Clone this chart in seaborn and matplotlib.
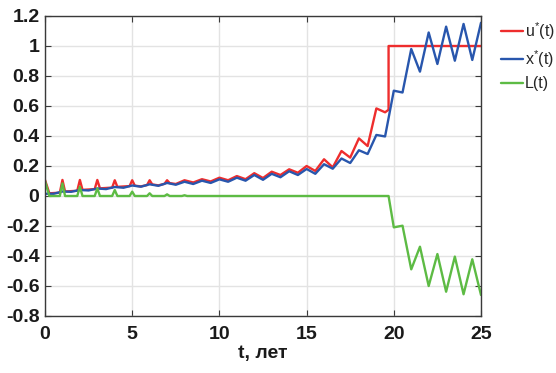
import matplotlib
matplotlib.use('Agg')
import matplotlib.pyplot as plt
from matplotlib.ticker import FuncFormatter, MultipleLocator
import pandas as pd
import seaborn as sns

# ---- data ----
t_u = [0, 0.25, 0.85, 1.0, 1.15, 1.85, 2.0, 2.15, 2.85, 3.0, 3.15, 3.85, 4.0, 4.15,
       4.85, 5.0, 5.15, 5.5, 5.85, 6.0, 6.15, 6.5, 6.85, 7.0, 7.15, 7.5,
       8.0, 8.5, 9.0, 9.5, 10.0, 10.5, 11.0, 11.5, 12.0, 12.5, 13.0, 13.5, 14.0, 14.5,
       15.0, 15.5, 16.0, 16.5, 17.0, 17.5, 18.0, 18.5, 19.0, 19.5, 19.7, 19.7, 25.0]
u_vals = [0.107, 0.018, 0.022, 0.107, 0.03, 0.035, 0.107, 0.041, 0.046, 0.107, 0.051, 0.056, 0.105, 0.061,
          0.066, 0.105, 0.069, 0.064, 0.073, 0.105, 0.077, 0.071, 0.081, 0.105, 0.086, 0.08,
          0.105, 0.09, 0.112, 0.097, 0.122, 0.105, 0.133, 0.112, 0.152, 0.12, 0.162, 0.14, 0.178, 0.155,
          0.2, 0.167, 0.245, 0.191, 0.3, 0.256, 0.384, 0.333, 0.584, 0.558, 0.575, 1.0, 1.0]

t_x = [0, 0.5, 1, 1.5, 2, 2.5, 3, 3.5, 4, 4.5, 5, 5.5, 6, 6.5, 7, 7.5, 8, 8.5, 9, 9.5,
       10, 10.5, 11, 11.5, 12, 12.5, 13, 13.5, 14, 14.5, 15, 15.5, 16, 16.5, 17, 17.5,
       18, 18.5, 19, 19.5, 20, 20.5, 21, 21.5, 22, 22.5, 23, 23.5, 24, 24.5, 25]
x_vals = [0.015, 0.015, 0.03, 0.028, 0.04, 0.037, 0.05, 0.046, 0.06, 0.055, 0.07, 0.062, 0.078, 0.068,
          0.087, 0.075, 0.095, 0.08, 0.102, 0.087, 0.111, 0.095, 0.122, 0.102, 0.14, 0.108, 0.148,
          0.125, 0.165, 0.14, 0.18, 0.148, 0.212, 0.182, 0.25, 0.22, 0.305, 0.28, 0.407, 0.397,
          0.702, 0.69, 0.98, 0.829, 1.09, 0.88, 1.129, 0.902, 1.147, 0.907, 1.155]

t_L = [0, 0.25, 0.85, 1.0, 1.15, 1.85, 2.0, 2.15, 2.85, 3.0, 3.15, 3.85, 4.0, 4.15,
       4.85, 5.0, 5.15, 5.85, 6.0, 6.15, 6.85, 7.0, 7.15, 7.85, 8.0, 8.15,
       19.7, 20.0, 20.5, 21.0, 21.5, 22.0, 22.5, 23.0, 23.5, 24.0, 24.5, 25.0]
L_vals = [0.1, 0.0, 0.0, 0.084, 0.0, 0.0, 0.062, 0.0, 0.0, 0.051, 0.0, 0.0, 0.04, 0.0,
          0.0, 0.029, 0.0, 0.0, 0.018, 0.0, 0.0, 0.011, 0.0, 0.0, 0.005, 0.0,
          0.0, -0.209, -0.198, -0.489, -0.338, -0.6, -0.387, -0.638, -0.404, -0.655, -0.422, -0.66]

series_names = ['u', 'x', 'L']
legend_labels = [r'u$^{*}$(t)', r'x$^{*}$(t)', 'L(t)']
colors = ['#ee2d2d', '#2856ad', '#5dbb44']
x_ticks = [0, 5, 10, 15, 20, 25]

df = pd.concat([
    pd.DataFrame({'t': t_u, 'v': u_vals, 's': 'u'}),
    pd.DataFrame({'t': t_x, 'v': x_vals, 's': 'x'}),
    pd.DataFrame({'t': t_L, 'v': L_vals, 's': 'L'}),
], ignore_index=True)

sns.set_theme(style='whitegrid')
plt.rcParams['font.family'] = ['Liberation Sans', 'DejaVu Sans']
plt.rcParams['mathtext.default'] = 'regular'

fig = plt.figure(figsize=(5.56, 3.73), dpi=100)
ax = fig.add_axes([45 / 556, 1 - 316 / 373, 436 / 556, 300 / 373])

sns.lineplot(data=df, x='t', y='v', hue='s', hue_order=series_names,
             palette=dict(zip(series_names, colors)), sort=False, estimator=None,
             linewidth=1.7, ax=ax, legend=False)

ax.set_xlim(0, 25)
ax.set_ylim(-0.8, 1.2)
ax.set_xticks(x_ticks)
ax.yaxis.set_major_locator(MultipleLocator(0.2))
ax.yaxis.set_major_formatter(FuncFormatter(lambda v, p: f"{round(v, 1):g}".replace('\u2212', '-')))
ax.xaxis.set_major_formatter(FuncFormatter(lambda v, p: f"{v:g}"))

ax.grid(True, color='#e3e3e3', linewidth=1.0)
ax.set_facecolor('white')
for sp in ax.spines.values():
    sp.set_visible(True)
    sp.set_color('#3a3a3a')
    sp.set_linewidth(1.0)
ax.tick_params(direction='in', length=4, width=0.8, color='#3a3a3a',
               top=True, right=True, bottom=True, left=True,
               labelsize=14, pad=4)
ax.tick_params(axis='x', pad=7.5)
for lab in ax.get_xticklabels() + ax.get_yticklabels():
    lab.set_fontweight('bold')
    lab.set_color('#1a1a1a')

ax.set_xlabel('t, лет', fontsize=14, fontweight='bold', color='#1a1a1a', labelpad=1)
ax.set_ylabel('')

handles = ax.get_lines()[:3]
fig.legend(handles, legend_labels, loc='upper left',
           bbox_to_anchor=(501 / 556, 1 - 20 / 373), frameon=False,
           handlelength=1.35, handletextpad=0.15, labelspacing=0.4,
           fontsize=11.5, borderpad=0, borderaxespad=0)

fig.savefig('out.png', dpi=100, facecolor='white')
